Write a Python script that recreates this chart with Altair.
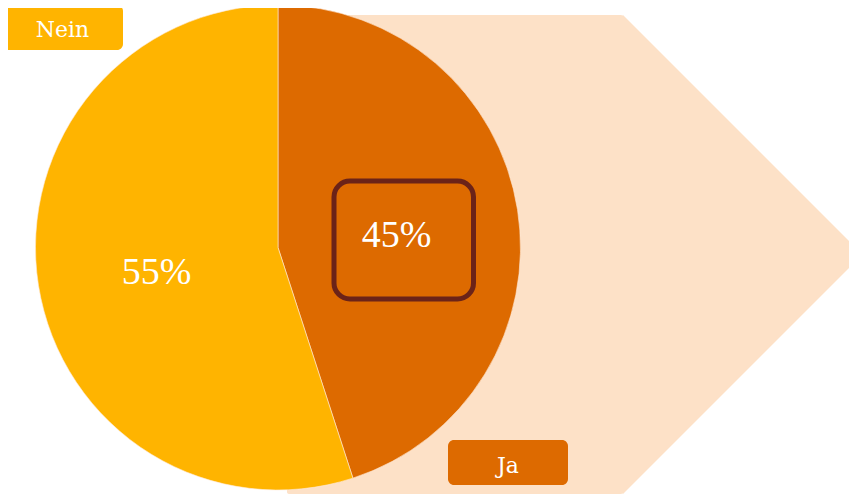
import altair as alt
import pandas as pd

# data
labels = ["Ja", "Nein"]
values = [45, 55]
order = [0, 1]
colors = ["#DD6A00", "#FFB400"]

PEACH = "#FDE1C7"
OUTLINE = "#6B2318"
OFF = 8  # page margin

df = pd.DataFrame({"label": labels, "value": values, "order": order})
df["pct"] = df["value"].astype(str) + "%"
one = pd.DataFrame({"a": [0]})

def px(v):
    return v - OFF

# background arrow: rectangle + rotated square (decoration)
bg_rect = alt.Chart(one).mark_rect(color=PEACH, cornerRadius=2).encode(
    x=alt.value(px(287)), x2=alt.value(px(623)),
    y=alt.value(px(15)), y2=alt.value(px(494)),
)
half_diag = (494 - 15) / 2
side = half_diag * 2 ** 0.5
bg_tip = alt.Chart(one).mark_point(
    shape="square", filled=True, angle=45, size=side * side,
    color=PEACH, opacity=1, strokeWidth=0,
).encode(x=alt.value(px(623)), y=alt.value(px(254.5)))

pie = alt.Chart(df).mark_arc(
    radius=242.5, stroke="#FFE9D6", strokeWidth=0.6
).encode(
    theta=alt.Theta("value:Q", stack=True),
    color=alt.Color("label:N", scale=alt.Scale(domain=labels, range=colors), legend=None),
    order=alt.Order("order:Q"),
    x=alt.value(px(278)), y=alt.value(px(247.5)),
)

outline = alt.Chart(one).mark_rect(
    fill=None, stroke=OUTLINE, strokeWidth=5, cornerRadius=16
).encode(
    x=alt.value(px(334)), x2=alt.value(px(473.5)),
    y=alt.value(px(181)), y2=alt.value(px(299)),
)

txt_ja = alt.Chart(df).transform_filter(alt.datum.label == "Ja").mark_text(
    font="Liberation Serif", fontSize=38, color="white", baseline="alphabetic", align="center"
).encode(text="pct:N", x=alt.value(px(396.5)), y=alt.value(px(247)))

txt_nein = alt.Chart(df).transform_filter(alt.datum.label == "Nein").mark_text(
    font="Liberation Serif", fontSize=38, color="white", baseline="alphabetic", align="center"
).encode(text="pct:N", x=alt.value(px(156.7)), y=alt.value(px(284)))

box_nein = alt.Chart(one).mark_rect(color=colors[1], cornerRadius=6).encode(
    x=alt.value(px(3)), x2=alt.value(px(123)),
    y=alt.value(px(5)), y2=alt.value(px(50)),
)
lab_nein = alt.Chart(df).transform_filter(alt.datum.label == "Nein").mark_text(
    font="DejaVu Serif", fontSize=22, color="white", baseline="alphabetic", align="center"
).encode(text="label:N", x=alt.value(px(62.5)), y=alt.value(px(37.3)))

box_ja = alt.Chart(one).mark_rect(color=colors[0], cornerRadius=6).encode(
    x=alt.value(px(448)), x2=alt.value(px(568)),
    y=alt.value(px(440)), y2=alt.value(px(485)),
)
lab_ja = alt.Chart(df).transform_filter(alt.datum.label == "Ja").mark_text(
    font="DejaVu Serif", fontSize=22, color="white", baseline="alphabetic", align="center"
).encode(text="label:N", x=alt.value(px(508)), y=alt.value(px(473.3)))

chart = alt.layer(
    bg_rect, bg_tip, pie, outline, txt_ja, txt_nein, box_nein, lab_nein, box_ja, lab_ja
).properties(
    width=841, height=487, padding=0, autosize="none"
).configure_view(stroke=None).resolve_scale(color="independent")

chart.save("out.html", embed_options={"renderer": "svg", "actions": False})
